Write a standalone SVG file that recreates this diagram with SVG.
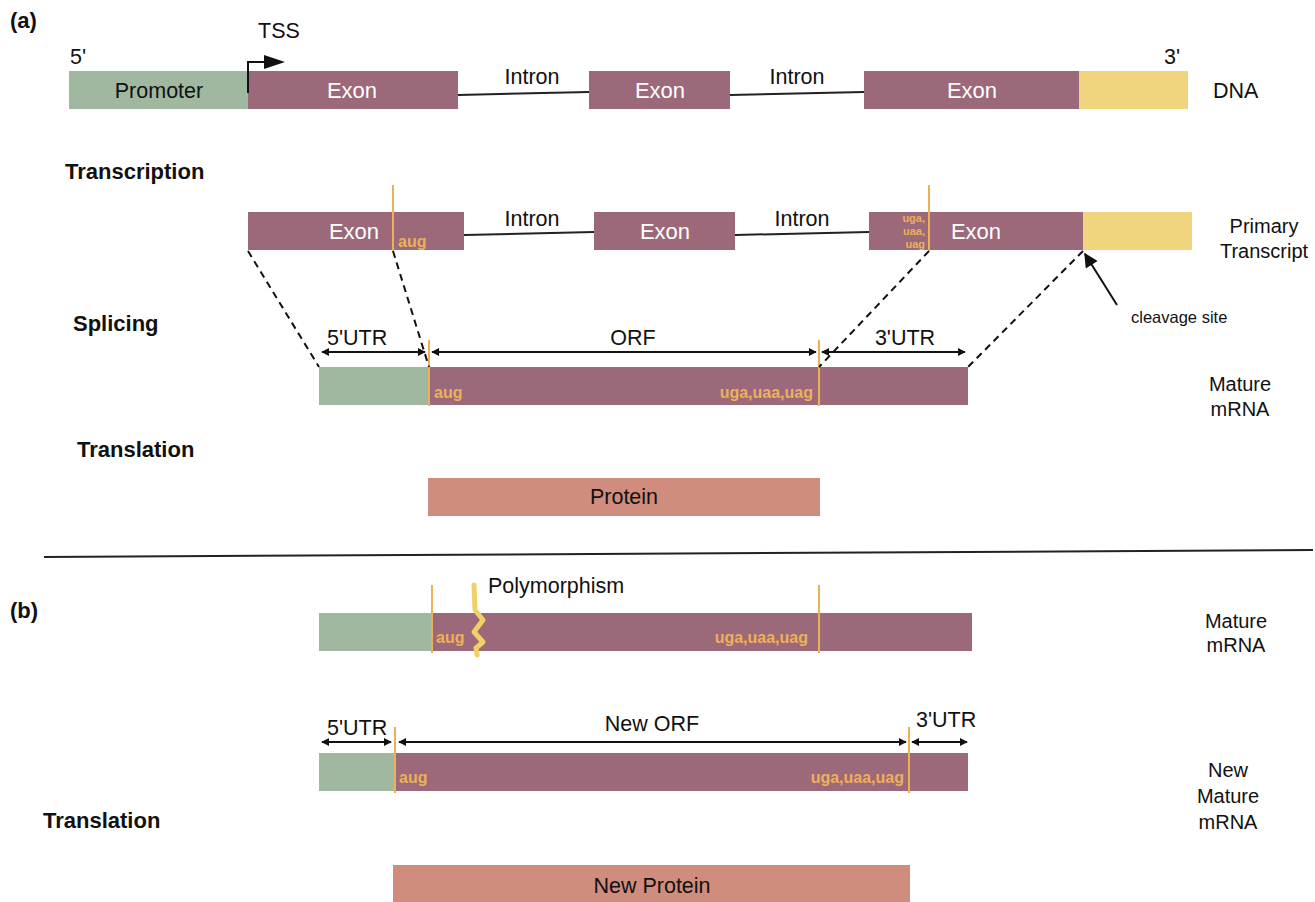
<svg xmlns="http://www.w3.org/2000/svg" width="1315" height="902" viewBox="0 0 1315 902">
<style>
text{font-family:"Liberation Sans",Arial,sans-serif;fill:#111}
.lbl{font-size:21.5px}
.r{font-size:20px}
.b{font-size:22px;font-weight:bold}
.w{font-size:22px;fill:#fff}
.o{font-size:16px;font-weight:bold;fill:#EDB05A}
.os{font-size:11px;font-weight:bold;fill:#EDB05A}
.g{fill:#A0B89F}
.p{fill:#9B6979}
.y{fill:#F1D57E}
.s{fill:#D08C7C}
.ol{stroke:#EDB05A;stroke-width:2}
.ln{stroke:#222;stroke-width:2;fill:none}
.ds{stroke:#111;stroke-width:2;stroke-dasharray:7,5;fill:none}
.ar{stroke:#111;stroke-width:1.8;fill:none;marker-start:url(#ah);marker-end:url(#ah)}
</style>
<defs>
<marker id="ah" viewBox="0 0 10 10" refX="9" refY="5" markerWidth="8" markerHeight="8" orient="auto-start-reverse" markerUnits="userSpaceOnUse"><path d="M0,0L10,5L0,10z" fill="#111"/></marker>
<marker id="ah2" viewBox="0 0 10 10" refX="9" refY="5" markerWidth="18" markerHeight="14" orient="auto" markerUnits="userSpaceOnUse"><path d="M0,0L10,5L0,10z" fill="#111"/></marker>
</defs>

<text x="10" y="28" class="b">(a)</text>
<text x="10" y="618" class="b">(b)</text>
<text x="65" y="179" class="b">Transcription</text>
<text x="73" y="331" class="b">Splicing</text>
<text x="77" y="457" class="b">Translation</text>
<text x="43" y="828" class="b">Translation</text>

<g id="dna">
<rect x="69" y="71" width="179" height="38" class="g"/>
<rect x="248" y="71" width="210" height="38" class="p"/>
<rect x="589" y="71" width="141" height="38" class="p"/>
<rect x="864" y="71" width="215" height="38" class="p"/>
<rect x="1079" y="71" width="109" height="38" class="y"/>
<text x="159" y="98" class="lbl" text-anchor="middle">Promoter</text>
<text x="352" y="98" class="w" text-anchor="middle">Exon</text>
<text x="660" y="98" class="w" text-anchor="middle">Exon</text>
<text x="972" y="98" class="w" text-anchor="middle">Exon</text>
<text x="70" y="64" class="lbl">5'</text>
<text x="1164" y="64" class="lbl">3'</text>
<text x="1213" y="98" class="lbl">DNA</text>
<text x="532" y="84" class="lbl" text-anchor="middle">Intron</text>
<text x="797" y="84" class="lbl" text-anchor="middle">Intron</text>
</g>

<g id="tss">
<path d="M248,93V62H266" stroke="#111" stroke-width="2" fill="none"/>
<path d="M264,55L285,62L264,69z" fill="#111"/>
<text x="258" y="38" class="lbl">TSS</text>
</g>

<g id="primary">
<rect x="248" y="212" width="216" height="38" class="p"/>
<rect x="594" y="212" width="141" height="38" class="p"/>
<rect x="869" y="212" width="214" height="38" class="p"/>
<rect x="1083" y="212" width="109" height="38" class="y"/>
<text x="354" y="239" class="w" text-anchor="middle">Exon</text>
<text x="665" y="239" class="w" text-anchor="middle">Exon</text>
<text x="976" y="239" class="w" text-anchor="middle">Exon</text>
<text x="398" y="247" class="o">aug</text>
<text x="925" y="222" class="os" text-anchor="end">uga,</text>
<text x="925" y="235" class="os" text-anchor="end">uaa,</text>
<text x="925" y="248" class="os" text-anchor="end">uag</text>
<line x1="393" y1="185" x2="393" y2="251" class="ol"/>
<line x1="929" y1="185" x2="929" y2="251" class="ol"/>
<text x="532" y="226" class="lbl" text-anchor="middle">Intron</text>
<text x="802" y="226" class="lbl" text-anchor="middle">Intron</text>
<text x="1264" y="233" class="r" text-anchor="middle">Primary</text>
<text x="1264" y="258" class="r" text-anchor="middle">Transcript</text>
</g>

<g id="cleavage">
<text x="1131" y="323" style="font-size:16.5px">cleavage site</text>
</g>

<g id="mature-a">
<rect x="319" y="367" width="110" height="38" class="g"/>
<rect x="429" y="367" width="539" height="38" class="p"/>
<line x1="429" y1="340" x2="429" y2="406" class="ol"/>
<line x1="819" y1="340" x2="819" y2="406" class="ol"/>
<text x="434" y="398" class="o">aug</text>
<text x="813" y="398" class="o" text-anchor="end">uga,uaa,uag</text>
<text x="327" y="345" class="lbl">5'UTR</text>
<text x="633" y="345" class="lbl" text-anchor="middle">ORF</text>
<text x="905" y="345" class="lbl" text-anchor="middle">3'UTR</text>
<text x="1240" y="391" class="r" text-anchor="middle">Mature</text>
<text x="1240" y="416" class="r" text-anchor="middle">mRNA</text>
</g>

<g id="protein">
<rect x="428" y="478" width="392" height="38" class="s"/>
<text x="624" y="504" class="lbl" text-anchor="middle">Protein</text>
</g>

<g id="mature-b">
<rect x="319" y="613" width="113" height="38" class="g"/>
<rect x="432" y="613" width="540" height="38" class="p"/>
<line x1="432" y1="585" x2="432" y2="653" class="ol"/>
<line x1="819" y1="585" x2="819" y2="653" class="ol"/>
<text x="436" y="643" class="o">aug</text>
<text x="808" y="643" class="o" text-anchor="end">uga,uaa,uag</text>
<path d="M474,585L475,610L483,620L474,632L483,642L476,648L477,655" stroke="#F1D06A" stroke-width="5" fill="none" stroke-linecap="round" stroke-linejoin="round"/>
<text x="488" y="593" class="lbl">Polymorphism</text>
<text x="1236" y="628" class="r" text-anchor="middle">Mature</text>
<text x="1236" y="652" class="r" text-anchor="middle">mRNA</text>
</g>

<g id="new-mature">
<rect x="319" y="753" width="76" height="38" class="g"/>
<rect x="395" y="753" width="573" height="38" class="p"/>
<line x1="395" y1="727" x2="395" y2="793" class="ol"/>
<line x1="909" y1="727" x2="909" y2="793" class="ol"/>
<text x="399" y="783" class="o">aug</text>
<text x="904" y="783" class="o" text-anchor="end">uga,uaa,uag</text>
<text x="327" y="735" class="lbl">5'UTR</text>
<text x="652" y="731" class="lbl" text-anchor="middle">New ORF</text>
<text x="916" y="727" class="lbl">3'UTR</text>
<text x="1228" y="777" class="r" text-anchor="middle">New</text>
<text x="1228" y="803" class="r" text-anchor="middle">Mature</text>
<text x="1228" y="829" class="r" text-anchor="middle">mRNA</text>
</g>

<g id="new-protein">
<rect x="393" y="865" width="517" height="37" class="s"/>
<text x="652" y="893" class="lbl" text-anchor="middle">New Protein</text>
</g>

<g id="connectors">
<line x1="458" y1="95" x2="589" y2="92" class="ln"/>
<line x1="730" y1="95" x2="864" y2="92" class="ln"/>
<line x1="464" y1="235" x2="594" y2="232" class="ln"/>
<line x1="735" y1="235" x2="869" y2="232" class="ln"/>
<line x1="248" y1="251" x2="319" y2="367" class="ds"/>
<line x1="393" y1="251" x2="429" y2="367" class="ds"/>
<line x1="929" y1="251" x2="819" y2="367" class="ds"/>
<line x1="1083" y1="251" x2="968" y2="367" class="ds"/>
<line x1="1117" y1="305" x2="1085" y2="254" stroke="#111" stroke-width="2" marker-end="url(#ah2)"/>
<line x1="322" y1="352" x2="425" y2="352" class="ar"/>
<line x1="432" y1="352" x2="816" y2="352" class="ar"/>
<line x1="822" y1="352" x2="965" y2="352" class="ar"/>
<line x1="322" y1="742" x2="391" y2="742" class="ar"/>
<line x1="399" y1="742" x2="906" y2="742" class="ar"/>
<line x1="912" y1="742" x2="967" y2="742" class="ar"/>
<line x1="44" y1="557" x2="1313" y2="550" stroke="#222" stroke-width="2"/>
</g>
</svg>
